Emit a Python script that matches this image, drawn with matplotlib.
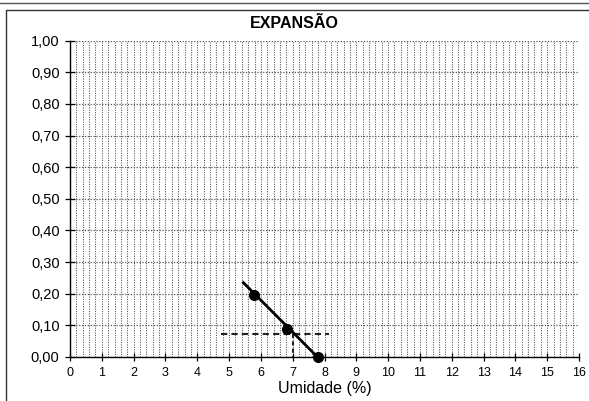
# ----------------------------------------------------------------------------------------------------------------------
# IMPORT GENERAL PACKAGES
# ----------------------------------------------------------------------------------------------------------------------

import matplotlib
matplotlib.use('Agg')
import matplotlib.pyplot as plt
from matplotlib.lines import Line2D
from matplotlib.ticker import MultipleLocator, FuncFormatter

# ----------------------------------------------------------------------------------------------------------------------
# DATA
# ----------------------------------------------------------------------------------------------------------------------

umidade = [5.77, 6.81, 7.78]          # %
expansao = [0.196, 0.089, 0.0]

trend_x = [5.45, 7.78]
trend_y = [0.235, 0.0]

ref_h_x = [4.75, 8.15]
ref_h_y = [0.072, 0.072]
ref_v_x = [7.0, 7.0]
ref_v_y = [0.072, 0.0]

x_ticks = list(range(0, 17))
y_ticks = [0.0, 0.1, 0.2, 0.3, 0.4, 0.5, 0.6, 0.7, 0.8, 0.9, 1.0]
title = 'EXPANSÃO'
x_label = 'Umidade (%)'

# ----------------------------------------------------------------------------------------------------------------------
# PLOT
# ----------------------------------------------------------------------------------------------------------------------

plt.rcParams['font.family'] = ['Liberation Sans', 'DejaVu Sans']

f = plt.figure(figsize=(5.89, 4.01), dpi=100)
ax = f.add_axes([70 / 589, 1 - 357 / 401, (579 - 70) / 589, (357 - 40.7) / 401])

# grid -----------------------------------------------------------------------------------------------------------------
ax.set_xlim([0, 16])
ax.set_ylim([0, 1])
ax.xaxis.set_major_locator(MultipleLocator(1))
ax.xaxis.set_minor_locator(MultipleLocator(0.2))
ax.set_yticks(y_ticks)
ax.grid(which='both', axis='x', color='#555555', linestyle=(0, (1, 1.3)), linewidth=0.75, zorder=0)
ax.grid(which='major', axis='y', color='#555555', linestyle=(0, (1, 1.3)), linewidth=0.9, zorder=0)
ax.set_axisbelow(True)

# data -----------------------------------------------------------------------------------------------------------------
ax.plot(ref_h_x, ref_h_y, color='#222222', linestyle=(0, (3, 2)), linewidth=1.5, zorder=2)
ax.plot(ref_v_x, ref_v_y, color='#222222', linestyle=(0, (2, 1.5)), linewidth=1.5, zorder=2)
ax.plot(trend_x, trend_y, color='black', linewidth=2.0, zorder=3)
ax.plot(umidade, expansao, linestyle='none', marker='o', markersize=7, color='black', zorder=4, clip_on=False)

# axes -----------------------------------------------------------------------------------------------------------------
for s in ['top', 'right']:
    ax.spines[s].set_visible(False)
ax.spines['left'].set_color('black')
ax.spines['bottom'].set_color('black')
ax.spines['left'].set_linewidth(1.0)
ax.spines['bottom'].set_linewidth(1.0)

ax.tick_params(axis='y', which='major', direction='inout', length=7, width=0.9, pad=4, labelsize=10.5, colors='black')
ax.tick_params(axis='x', which='major', direction='inout', length=6, width=0.9, pad=4, labelsize=9, colors='black')
ax.tick_params(axis='x', which='minor', length=0)
ax.yaxis.set_major_formatter(FuncFormatter(lambda v, p: '{:.2f}'.format(v).replace('.', ',')))
ax.set_xticks(x_ticks)

ax.set_xlabel(x_label, fontsize=11.5, color='black', labelpad=2)
f.text(0.5, 1 - 23 / 401, title, ha='center', va='center', fontsize=11.5, fontweight='bold', color='black')

# outer frame ----------------------------------------------------------------------------------------------------------
f.add_artist(Line2D([0, 1], [1 - 3 / 401, 1 - 3 / 401], transform=f.transFigure, color='#555555', linewidth=1.0))
f.add_artist(Line2D([6 / 589, 6 / 589, 1], [0, 1 - 10 / 401, 1 - 10 / 401], transform=f.transFigure,
                    color='#333333', linewidth=1.0))

# ----------------------------------------------------------------------------------------------------------------------
plt.savefig('out.png', dpi=100)
